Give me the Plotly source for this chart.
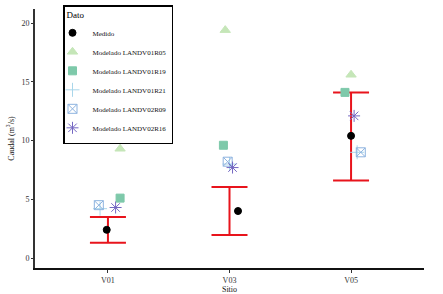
import plotly.graph_objects as go

sites = ["V01", "V03", "V05"]
series_names = ["Medido", "Modelado LANDV01R05", "Modelado LANDV01R19",
                "Modelado LANDV01R21", "Modelado LANDV02R09", "Modelado LANDV02R16"]
medido = [2.4, 4.0, 10.4]
r05 = [9.3, 19.4, 15.6]
r19 = [5.1, 9.6, 14.1]
r21 = [4.2, 8.0, 9.0]
r09 = [4.5, 8.2, 9.0]
r16 = [4.3, 7.7, 12.1]
err_upper = [3.5, 6.05, 14.1]
err_lower = [1.3, 1.95, 6.6]
y_ticks = [0, 5, 10, 15, 20]

values = [medido, r05, r19, r21, r09, r16]
# horizontal jitter offsets (category units), styling only
jitter = [[-0.01, 0.07, 0.0], [0.10, -0.035, 0.0], [0.10, -0.05, -0.05],
          [-0.065, 0.0, 0.05], [-0.075, -0.015, 0.08], [0.063, 0.025, 0.025]]
symbols = ["circle", "triangle-up", "square", "cross-thin-open", "square-x-open", "asterisk-open"]
colors = ["#000000", "#c5e6b8", "#7ec9aa", "#a9d6ea", "#8db3df", "#7467c2"]
sizes = [7, 9, 8, 10, 9, 10]

xpos = [1, 2, 3]
fig = go.Figure()

mid = [(u + l) / 2 for u, l in zip(err_upper, err_lower)]
fig.add_trace(go.Scatter(
    x=xpos, y=mid, mode="markers", marker=dict(opacity=0, size=1), showlegend=False,
    hoverinfo="skip",
    error_y=dict(type="data", symmetric=False,
                 array=[u - m for u, m in zip(err_upper, mid)],
                 arrayminus=[m - l for m, l in zip(mid, err_lower)],
                 color="#e8141c", thickness=2, width=18)))

for name, vals, jit, sym, col, sz in zip(series_names, values, jitter, symbols, colors, sizes):
    fig.add_trace(go.Scatter(
        x=[p + j for p, j in zip(xpos, jit)], y=vals, mode="markers", name=name,
        marker=dict(symbol=sym, color=col, size=sz,
                    line=dict(color=col, width=1))))

font_family = "Liberation Serif"
fig.update_layout(
    width=443, height=294,
    margin=dict(l=35, r=19, t=5, b=26),
    paper_bgcolor="white", plot_bgcolor="white",
    font=dict(family=font_family, size=8, color="#222222"),
    showlegend=True,
    legend=dict(
        x=0.072, y=1.015, xanchor="left", yanchor="top",
        bgcolor="white", bordercolor="black", borderwidth=1.5,
        title=dict(text="Dato", font=dict(family=font_family, size=9, color="#000000")),
        font=dict(family=font_family, size=7, color="#111111"),
        itemwidth=30, tracegroupgap=0, indentation=-12,
    ),
    xaxis=dict(
        range=[0.4, 3.6], tickmode="array", tickvals=xpos, ticktext=sites,
        showgrid=False, zeroline=False, showline=True, linecolor="#111111", linewidth=2,
        ticks="outside", ticklen=3, tickcolor="#333333",
        tickfont=dict(family=font_family, size=8, color="#333333"),
        title=dict(text="Sitio", standoff=0, font=dict(family=font_family, size=8, color="#111111")),
    ),
    yaxis=dict(
        range=[-0.85, 21.2], tickmode="array", tickvals=y_ticks,
        showgrid=False, zeroline=False, showline=True, linecolor="#333333", linewidth=2,
        ticks="outside", ticklen=2, tickcolor="#333333",
        tickfont=dict(family=font_family, size=8, color="#333333"),
        title=dict(text="Caudal (m<sup>3</sup>/s)", standoff=6,
                   font=dict(family=font_family, size=8, color="#111111")),
    ),
)

fig.write_html("out.html", config={"displayModeBar": False},
               post_script="document.body.style.margin='0px';document.body.style.overflow='hidden';")
